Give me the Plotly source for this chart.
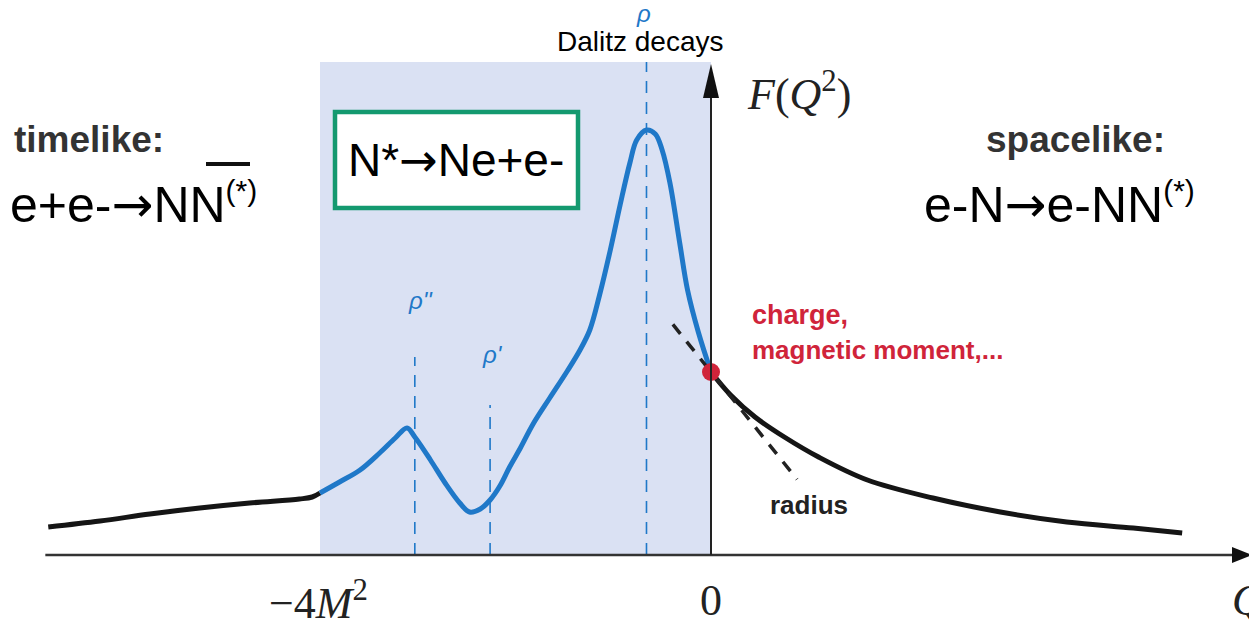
import plotly.graph_objects as go

# ---- curve values: Q^2 (units where -4M^2 = -4) and form factor F ----
left_q = [-6.78, -6.25, -5.74, -5.23, -4.72, -4.21, -4.08, -4.0]
left_f = [0.28, 0.34, 0.41, 0.47, 0.52, 0.56, 0.58, 0.62]

mid_q = [-4.0, -3.80, -3.59, -3.39, -3.23, -3.11, -3.03, -2.87, -2.72, -2.57, -2.47,
         -2.36, -2.26, -2.16, -2.06, -1.95, -1.82, -1.65, -1.47, -1.34, -1.24, -1.14,
         -1.03, -0.93, -0.83, -0.76, -0.66, -0.57, -0.50, -0.42, -0.32, -0.24, -0.13, 0.0]
mid_f = [0.62, 0.73, 0.85, 1.02, 1.17, 1.27, 1.18, 0.95, 0.72, 0.52, 0.43,
         0.46, 0.55, 0.69, 0.88, 1.07, 1.31, 1.57, 1.84, 2.05, 2.25, 2.60,
         3.05, 3.50, 3.92, 4.15, 4.25, 4.21, 4.05, 3.72, 3.12, 2.65, 2.23, 1.83]

right_q = [0.0, 0.20, 0.45, 0.75, 1.10, 1.60, 2.27, 2.96, 3.64, 4.32, 4.82]
right_f = [1.83, 1.60, 1.38, 1.18, 0.98, 0.75, 0.57, 0.43, 0.33, 0.27, 0.22]

# static value F(0) and slope of the tangent (radius)
f0 = 1.83
radius_slope = -1.22
tangent_q = [-0.39, 0.88]

# vector-meson pole positions and the top of their marker lines
rho_names = ["ρ''", "ρ'", "ρ"]
rho_q = [-3.03, -2.26, -0.66]
rho_top = [1.98, 1.50, 4.93]

# timelike region below threshold (shaded) and axis extents
band_q = [-4.0, 0.0]
band_top = 4.93
x_range = [-7.2737, 5.5038]
y_range = [-0.73, 5.55]

W, H = 1249, 628
BLUE = "#1f78c8"
BLACK = "#151515"
RED = "#d0243a"


def px(x):
    return x / W


def py(y):
    return 1 - y / H


fig = go.Figure()

# curve pieces
fig.add_trace(go.Scatter(x=left_q, y=left_f, mode="lines",
                         line=dict(color=BLACK, width=5, shape="spline", smoothing=1.0)))
fig.add_trace(go.Scatter(x=mid_q, y=mid_f, mode="lines",
                         line=dict(color=BLUE, width=5, shape="spline", smoothing=1.0)))
fig.add_trace(go.Scatter(x=right_q, y=right_f, mode="lines",
                         line=dict(color=BLACK, width=5, shape="spline", smoothing=1.0)))

# tangent at Q^2 = 0
tan_f = [f0 + radius_slope * q for q in tangent_q]
fig.add_trace(go.Scatter(x=tangent_q, y=tan_f, mode="lines",
                         line=dict(color="#222222", width=3.5, dash="12px,10px")))

# resonance marker lines
for q, top in zip(rho_q, rho_top):
    fig.add_trace(go.Scatter(x=[q, q], y=[0, top], mode="lines",
                             line=dict(color=BLUE, width=1.6, dash="12px,9px")))

# F(0) point
fig.add_trace(go.Scatter(x=[0], y=[f0], mode="markers",
                         marker=dict(color=RED, size=18, line=dict(width=0))))

shapes = []
# shaded band
shapes.append(dict(type="rect", xref="x", yref="y", x0=band_q[0], x1=band_q[1], y0=0,
                   y1=band_top, fillcolor="#dae1f3", line=dict(width=0), layer="below"))
# horizontal axis
shapes.append(dict(type="line", xref="x", yref="y", x0=-6.81, x1=5.40, y0=0, y1=0,
                   line=dict(color="#333333", width=2.5)))
shapes.append(dict(type="path", xref="paper", yref="paper",
                   path=f"M {px(1232)} {py(547)} L {px(1252)} {py(555)} L {px(1232)} {py(563)} Z",
                   fillcolor="#111111", line=dict(width=0)))
# vertical axis
shapes.append(dict(type="line", xref="x", yref="y", x0=0, x1=0, y0=0, y1=4.7,
                   line=dict(color="#222222", width=2)))
shapes.append(dict(type="path", xref="paper", yref="paper",
                   path=f"M {px(703)} {py(98)} L {px(711)} {py(64)} L {px(719)} {py(98)} Z",
                   fillcolor="#111111", line=dict(width=0)))
# box around the Dalitz decay
shapes.append(dict(type="rect", xref="paper", yref="paper", x0=px(335), x1=px(578),
                   y0=py(208), y1=py(112), fillcolor="white",
                   line=dict(color="#14996f", width=4.5)))
# bar over the antinucleon
shapes.append(dict(type="line", xref="paper", yref="paper", x0=px(206), x1=px(250),
                   y0=py(164), y1=py(164), line=dict(color="#111111", width=4)))

ann = []


def text(x, y, s, size, color="#000000", family="Liberation Sans", xa="center", ya="middle"):
    ann.append(dict(xref="paper", yref="paper", x=px(x), y=py(y), text=s, showarrow=False,
                    xanchor=xa, yanchor=ya, font=dict(size=size, color=color, family=family)))


sans = "Liberation Sans"
serif = "Liberation Serif"
ARROW = '<span style="font-family:DejaVu Sans">→</span>'
STAR = '<sup><span style="font-size:30px">(*)</span></sup>'

text(12, 139, "<b>timelike:</b>", 37, "#333333", sans, xa="left")
text(8, 204, "e+e-" + ARROW + "NN" + STAR, 50, "#000000", sans, xa="left")
text(1075, 139, "<b>spacelike:</b>", 37, "#333333", sans)
text(922, 204, "e-N" + ARROW + "e-NN" + STAR, 50, "#000000", sans, xa="left")
text(456, 160, "N*" + ARROW + "Ne+e-", 46, "#000000", sans)
text(641, 42, "Dalitz decays", 28, "#000000", sans)
text(643, 14, "<i>" + rho_names[2] + "</i>", 24, BLUE, sans)
text(420, 300, "<i>" + rho_names[0] + "</i>", 24, BLUE, sans)
text(492, 354, "<i>" + rho_names[1] + "</i>", 24, BLUE, sans)
text(750, 315, "<b>charge,</b>", 27, RED, sans, xa="left")
text(750, 350, "<b>magnetic moment,...</b>", 26, RED, sans, xa="left")
text(809, 505, "<b>radius</b>", 26, "#222222", sans)
text(745, 92, "<i>F</i>(<i>Q</i><sup>2</sup>)", 44, "#222222", serif, xa="left")
text(318, 600, "−4<i>M</i><sup>2</sup>", 44, "#222222", serif)
text(711, 600, "0", 44, "#222222", serif)
text(1230, 600, "<i>Q</i>", 44, "#222222", serif, xa="left")

fig.update_layout(
    width=W, height=H, margin=dict(l=0, r=0, t=0, b=0),
    paper_bgcolor="white", plot_bgcolor="white", showlegend=False,
    xaxis=dict(range=x_range, visible=False, fixedrange=True),
    yaxis=dict(range=y_range, visible=False, fixedrange=True),
    shapes=shapes, annotations=ann,
)

fig.write_html("out.html")
